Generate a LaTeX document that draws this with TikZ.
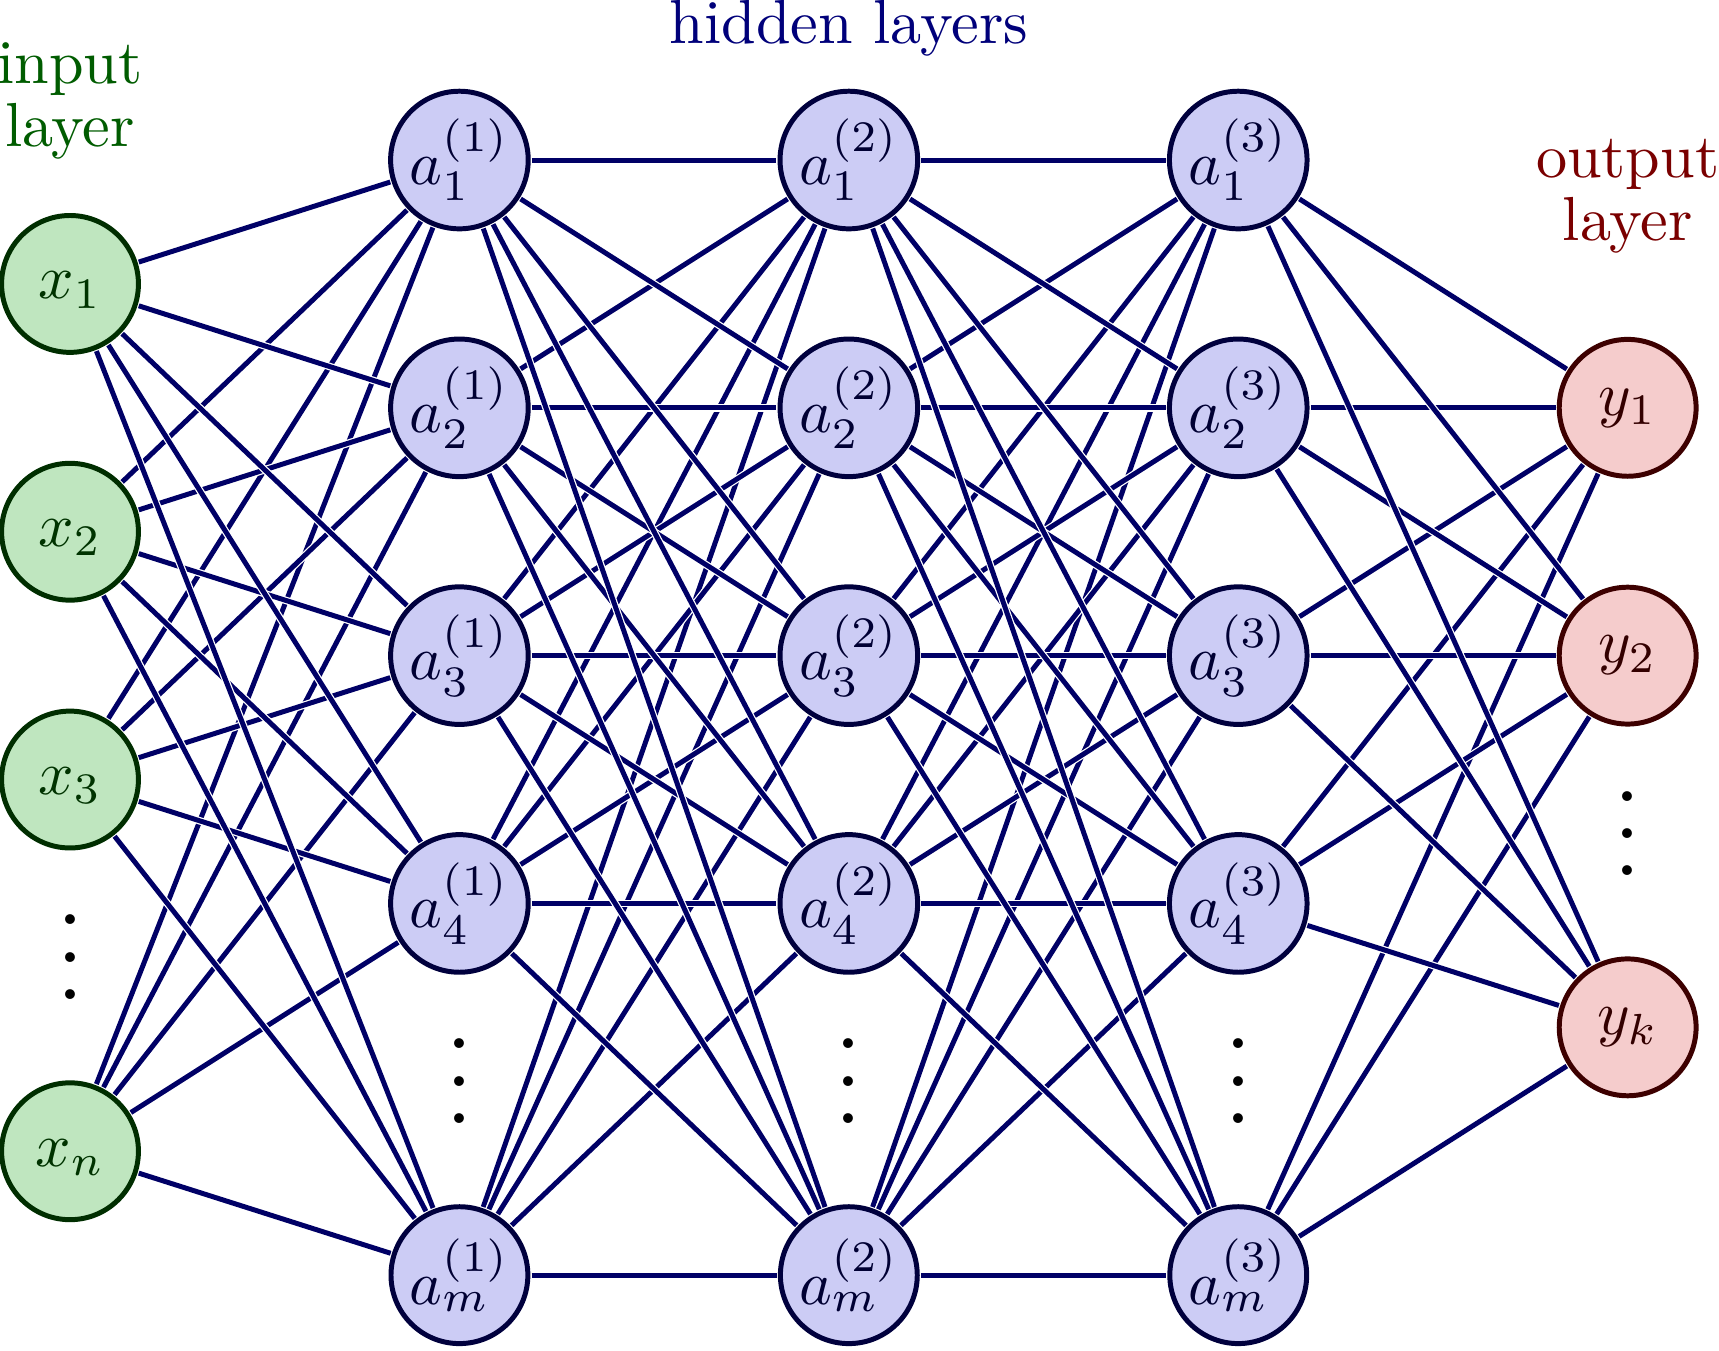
\documentclass[tikz,border=0pt]{standalone}
\usepackage{amsmath}
\colorlet{myred}{red!80!black}
\colorlet{myblue}{blue!80!black}
\colorlet{mygreen}{green!60!black}
\colorlet{mydarkblue}{blue!40!black}
\tikzset{
  nn/.style={thick,circle,draw=myblue,minimum size=22,inner sep=0.5,outer sep=0.6},
  nin/.style={nn,green!20!black,draw=mygreen!30!black,fill=mygreen!25},
  nhid/.style={nn,blue!20!black,draw=myblue!30!black,fill=myblue!20},
  nout/.style={nn,red!20!black,draw=myred!30!black,fill=myred!20},
  connect/.style={thick,mydarkblue},
  under/.style={white,line width=1.2,shorten >=1},
  vdotsnode/.style={scale=1.5},
  lab/.style={align=center,inner sep=0pt},
}
\begin{document}
\begin{tikzpicture}[x=2.2cm,y=1.4cm]
  \useasboundingbox (1.8045cm,-4.623cm) rectangle (11.516cm,3.004cm);
  % input layer
  \foreach \i/\lab/\y in {1/1/1,2/2/0,3/3/-1,4/n/-2.5}{
    \node[nin] (N1-\i) at (1,\y) {$\strut x_{\lab}$};
  }
  \path (N1-4) --++ (0,1.5) node[midway,vdotsnode] (D1) {$\vdots$};
  % hidden layers
  \foreach \l [evaluate={\p=int(\l-1); \h=int(\l-1);}] in {2,3,4}{
    \foreach \i/\lab/\y in {1/1/1.5,2/2/0.5,3/3/-0.5,4/4/-1.5,5/m/-3}{
      \node[nhid] (N\l-\i) at (\l,\y) {$a_{\lab}^{(\h)}$};
      \ifnum\l=2
        \foreach \j in {1,...,4}{
          \draw[under] (N\p-\j) -- (N\l-\i);
          \draw[connect] (N\p-\j) -- (N\l-\i);
        }
      \else
        \foreach \j in {1,...,5}{
          \draw[under] (N\p-\j) -- (N\l-\i);
          \draw[connect] (N\p-\j) -- (N\l-\i);
        }
      \fi
    }
    \path (N\l-5) --++ (0,1.5) node[midway,vdotsnode] (D\l) {$\vdots$};
  }
  % output layer
  \foreach \i/\lab/\y in {1/1/0.5,2/2/-0.5,3/k/-2}{
    \node[nout] (N5-\i) at (5,\y) {$y_{\lab}$};
    \foreach \j in {1,...,5}{
      \draw[under] (N4-\j) -- (N5-\i);
      \draw[connect] (N4-\j) -- (N5-\i);
    }
  }
  \path (N5-3) --++ (0,1.5) node[midway,vdotsnode] (D5) {$\vdots$};
  % labels
  \node[lab,anchor=south,mygreen!60!black] (Lin) at (2.2cm,2.100cm) {input\\[-0.2em]layer};
  \node[lab,anchor=base,myblue!60!black] (Lhid) at (6.6cm,2.761cm) {hidden layers};
  \node[lab,anchor=south,myred!60!black] (Lout) at (11cm,1.569cm) {output\\[-0.2em]layer};
\end{tikzpicture}
\end{document}
